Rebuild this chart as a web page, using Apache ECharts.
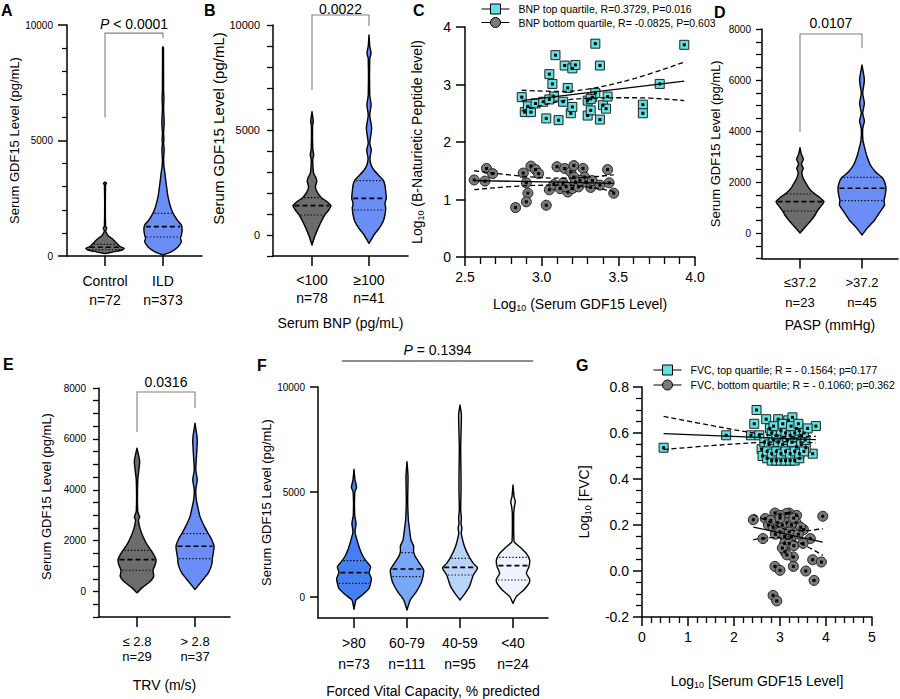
<!DOCTYPE html>
<html><head><meta charset="utf-8">
<script src="https://cdn.jsdelivr.net/npm/echarts@6/dist/echarts.min.js"></script>
<style>html,body{margin:0;padding:0;background:#fff}#chart{width:900px;height:699px}</style>
</head><body><div id="chart"></div>
<script>
// ---------------- DATA ----------------
// Panel A
const aCategories = ['Control', 'ILD'];
const aCounts = [72, 373];
const aControlViolin = [[100,0],[180,0.45],[260,0.9],[330,1.0],[400,0.82],[476,0.7],[620,0.53],[765,0.35],[866,0.18],[1000,0.07],[1100,0.04],[1200,0.09],[1300,0.03],[3080,0.03],[3146,0.08],[3200,0]];
const aILDViolin = [[43,0],[188,0.44],[404,0.79],[620,0.96],[765,0.91],[909,0.96],[1126,1.0],[1342,0.96],[1558,0.74],[1847,0.53],[2135,0.39],[2568,0.26],[2857,0.21],[3290,0.14],[3579,0.1],[3867,0.05],[4200,0.03],[4589,0.06],[4900,0.03],[5022,0.05],[5300,0.03],[5743,0.06],[6031,0.05],[6400,0.03],[6825,0.05],[7200,0.03],[9000,0.025],[9062,0]];
const aQuartiles = [[280,380,500],[823,1270,1847]];
// Panel B
const bCategories = ['<100', '\u2265100'];
const bCounts = [78, 41];
const bLowViolin = [[-476,0],[-79,0.14],[317,0.32],[714,0.53],[952,0.67],[1190,0.88],[1397,1.0],[1587,0.79],[1778,0.49],[2063,0.26],[2302,0.18],[2540,0.25],[2730,0.21],[2937,0.09],[3254,0.05],[3600,0.04],[3810,0.09],[4127,0.04],[5200,0.03],[5397,0.07],[5873,0]];
const bHighViolin = [[-397,0],[0,0.26],[317,0.53],[635,0.74],[952,0.84],[1270,0.88],[1508,0.84],[1746,0.91],[2063,0.88],[2381,0.84],[2619,0.74],[2857,0.49],[3095,0.26],[3333,0.11],[3651,0.05],[4048,0.12],[4365,0.04],[5079,0.14],[5714,0.04],[6190,0.11],[6667,0.04],[8400,0.04],[8651,0.11],[9000,0.04],[9524,0]];
const bQuartiles = [[952,1397,1778],[1190,1746,2587]];
// Panel C
const cTopName = 'BNP top quartile, R=0.3729, P=0.016';
const cBottomName = 'BNP bottom quartile, R= -0.0825, P=0.603';
const cTop = [[2.87,2.78],[2.89,2.52],[2.91,2.62],[2.93,2.52],[2.96,2.67],[3.01,2.70],[3.03,2.41],[3.05,3.18],[3.07,3.01],[3.08,2.79],[3.09,3.51],[3.05,2.74],[3.11,2.38],[3.14,2.70],[3.15,3.33],[3.17,2.94],[3.19,2.50],[3.20,3.28],[3.20,2.61],[3.22,3.34],[3.30,2.72],[3.30,2.46],[3.32,2.55],[3.33,2.78],[3.35,3.71],[3.35,2.85],[3.38,3.33],[3.38,2.39],[3.40,2.64],[3.42,2.58],[3.43,2.79],[3.32,2.75],[3.66,2.65],[3.66,2.50],[3.77,3.01],[3.93,3.69]];
const cBottom = [[2.56,1.34],[2.63,1.32],[2.64,1.54],[2.68,1.45],[2.83,0.86],[2.88,1.46],[2.90,1.29],[2.91,1.11],[2.90,0.96],[2.93,1.58],[2.96,1.52],[2.98,1.45],[3.03,0.90],[3.05,1.17],[3.08,1.26],[3.10,1.57],[3.12,1.19],[3.14,1.29],[3.15,1.54],[3.17,1.13],[3.19,1.48],[3.20,1.19],[3.21,1.59],[3.21,1.39],[3.22,1.30],[3.24,1.22],[3.27,1.54],[3.28,1.39],[3.29,1.30],[3.32,1.21],[3.33,1.33],[3.38,1.25],[3.43,1.52],[3.44,1.29],[3.47,1.11],[3.16,1.22],[3.25,1.33]];
const cTopFit = [[2.87,2.72],[3.93,3.06]];
const cTopUpper = [[2.87,2.90],[3.1,2.88],[3.3,2.92],[3.6,3.10],[3.93,3.39]];
const cTopLower = [[2.87,2.54],[3.1,2.70],[3.3,2.76],[3.6,2.77],[3.93,2.72]];
const cBottomFit = [[2.56,1.33],[3.47,1.28]];
const cBottomUpper = [[2.56,1.50],[2.9,1.40],[3.15,1.37],[3.47,1.43]];
const cBottomLower = [[2.56,1.17],[2.9,1.24],[3.15,1.25],[3.47,1.14]];
// Panel D
const dCategories = ['\u226437.2', '>37.2'];
const dCounts = [23, 45];
const dLowViolin = [[0,0],[183,0.17],[444,0.42],[706,0.63],[863,0.72],[1033,0.86],[1229,1.0],[1386,0.83],[1556,0.58],[1752,0.38],[2013,0.21],[2209,0.11],[2405,0.08],[2536,0.14],[2693,0.06],[2902,0.14],[3085,0.06],[3346,0]];
const dHighViolin = [[-78,0],[183,0.21],[510,0.53],[837,0.76],[1098,0.94],[1268,0.92],[1490,0.97],[1752,1.0],[2013,0.94],[2183,0.83],[2405,0.56],[2667,0.35],[3059,0.19],[3386,0.1],[3647,0.04],[4105,0.03],[4392,0.1],[4693,0.03],[5085,0.1],[5477,0.03],[6000,0.1],[6588,0]];
const dQuartiles = [[863,1229,1529],[1268,1752,2183]];
// Panel E
const eCategories = ['\u2264 2.8', '> 2.8'];
const eCounts = [29, 37];
const eLowViolin = [[-52,0],[144,0.26],[405,0.7],[601,0.88],[837,0.84],[1059,0.96],[1255,1.0],[1451,0.88],[1621,0.74],[1843,0.53],[2105,0.35],[2366,0.21],[2627,0.11],[2824,0.08],[2928,0.14],[3150,0.04],[4392,0.04],[5111,0.14],[5636,0]];
const eHighViolin = [[78,0],[405,0.35],[732,0.7],[1059,0.88],[1294,0.91],[1516,0.96],[1778,1.0],[2039,0.88],[2275,0.7],[2562,0.49],[2954,0.26],[3346,0.14],[3608,0.07],[4000,0.04],[4392,0.12],[4784,0.04],[5961,0.12],[6616,0]];
const eQuartiles = [[837,1255,1621],[1294,1778,2275]];
// Panel F
const fCategories = ['>80', '60-79', '40-59', '<40'];
const fCounts = [73, 111, 95, 24];
const fViolin80 = [[-587,0],[-143,0.12],[95,0.48],[413,0.87],[651,0.96],[889,1.0],[1159,0.87],[1444,0.96],[1683,0.73],[2000,0.48],[2397,0.29],[2873,0.12],[3111,0.06],[3508,0.12],[3905,0.04],[5000,0.05],[5222,0.15],[5571,0.06],[6079,0]];
const fViolin60 = [[-619,0],[-143,0.19],[254,0.54],[651,0.81],[968,0.92],[1286,0.96],[1603,0.73],[1921,0.48],[2159,0.38],[2429,0.38],[2714,0.23],[3190,0.15],[3667,0.08],[4619,0.04],[5730,0.06],[6444,0]];
const fViolin40 = [[-143,0],[175,0.29],[492,0.54],[810,0.67],[1048,0.77],[1286,0.96],[1413,1.0],[1603,0.77],[1841,0.58],[2159,0.38],[2476,0.23],[2794,0.13],[3032,0.07],[3270,0.11],[3508,0.06],[3746,0.08],[4143,0.04],[5095,0.06],[5651,0.06],[7157,0.04],[8667,0.08],[9143,0]];
const fViolinLow = [[-302,0],[16,0.19],[333,0.62],[651,0.92],[841,0.96],[1127,0.77],[1444,0.92],[1762,0.96],[2079,0.77],[2317,0.48],[2524,0.19],[2635,0.06],[3984,0.04],[4302,0.08],[4540,0.13],[4778,0.06],[5333,0]];
const fQuartiles = [[651,1159,1730],[968,1333,2111],[1048,1413,1841],[810,1492,1889]];
// Panel G
const gTopName = 'FVC, top quartile; R = - 0.1564; p=0.177';
const gBottomName = 'FVC, bottom quartile; R = - 0.1060; p=0.362';
const gTop = [[0.47,0.536],[1.83,0.59],[2.49,0.70],[2.44,0.64],[2.37,0.59],[2.55,0.59],[2.60,0.53],[2.70,0.66],[2.78,0.62],[2.96,0.66],[3.18,0.655],[3.27,0.668],[3.36,0.62],[3.47,0.59],[3.78,0.63],[3.71,0.51],[3.56,0.536],[3.36,0.54],
 [2.62,0.50],[2.72,0.49],[2.82,0.48],[2.92,0.48],[3.02,0.48],[3.12,0.48],[3.22,0.48],[3.32,0.48],[3.42,0.49],
 [2.66,0.56],[2.76,0.55],[2.86,0.57],[2.96,0.56],[3.06,0.55],[3.16,0.57],[3.26,0.56],[3.46,0.55],[3.55,0.57],
 [2.72,0.52],[2.82,0.51],[2.92,0.52],[3.02,0.51],[3.12,0.52],[3.22,0.51],[3.32,0.52],[3.42,0.51],[3.52,0.52],
 [2.82,0.60],[2.92,0.59],[3.02,0.61],[3.12,0.60],[3.22,0.59],[3.32,0.60],[3.42,0.61],[3.52,0.60],
 [2.86,0.63],[3.06,0.64],[3.24,0.63],[3.40,0.64],[3.60,0.62]];
const gBottom = [[2.42,0.223],[2.68,0.228],[2.89,0.252],[3.20,0.252],[3.36,0.242],[3.14,0.25],[3.0,0.242],[3.93,0.238],[2.63,0.141],[3.51,0.18],[3.66,0.141],[3.25,0.148],[3.11,0.083],[3.29,0.061],[2.89,0.02],[3.0,0.003],[3.29,0.02],[3.71,0.049],[3.90,0.039],[3.56,0.0],[3.74,-0.041],[2.85,-0.106],[2.93,-0.13],
 [2.75,0.20],[2.85,0.19],[2.95,0.21],[3.05,0.20],[3.15,0.21],[3.25,0.20],[3.35,0.21],[3.45,0.19],[2.9,0.16],[3.0,0.17],[3.1,0.15],[3.2,0.17],[3.4,0.16],[3.1,0.12],[3.2,0.12],[3.3,0.11],[3.05,0.10],[3.15,0.07],[3.5,0.12],[2.8,0.22],[3.0,0.23],[3.3,0.23]];
const gTopFit = [[0.47,0.597],[3.78,0.571]];
const gTopUpper = [[0.47,0.672],[1.5,0.633],[2.5,0.598],[3.2,0.585],[3.78,0.585]];
const gTopLower = [[0.47,0.528],[1.5,0.545],[2.5,0.558],[3.2,0.562],[3.78,0.557]];
const gBottomFit = [[2.42,0.191],[3.93,0.126]];
const gBottomUpper = [[2.42,0.246],[2.8,0.21],[3.15,0.18],[3.5,0.175],[3.93,0.184]];
const gBottomLower = [[2.42,0.136],[2.8,0.145],[3.15,0.14],[3.5,0.115],[3.93,0.068]];

// ---------------- STYLE / HELPERS ----------------
const FONT = '"Liberation Sans", Arial, Helvetica, sans-serif';
const GRAY = '#6c6c6c', BLUE = '#6b8ef6';
const CYAN = '#60e2e2', CIRC = '#7a7a7a';
const SUB = {s: {fontSize: 9, fontFamily: FONT, color: '#000', verticalAlign: 'bottom', padding: [8, 0, 0, 0]}};

function interp(prof, v) {
  for (let i = 1; i < prof.length; i++) {
    if (v <= prof[i][0]) {
      const [v0, d0] = prof[i - 1], [v1, d1] = prof[i];
      return d0 + (d1 - d0) * (v - v0) / (v1 - v0);
    }
  }
  return 0;
}

// category positions on a value x axis that starts at 0 at the grid's left edge
function catXAxis(gi, lead, trail, cats, counts, fs, lh, margin, name, nameGap) {
  const pos = cats.map((c, i) => lead + i);
  return {
    type: 'value', gridIndex: gi, min: 0, max: lead + cats.length - 1 + trail, position: 'bottom',
    axisLine: {show: true, onZero: false, lineStyle: {color: '#000', width: 1.5}},
    axisTick: {show: true, customValues: pos, length: 10, lineStyle: {color: '#000', width: 1.5}},
    axisLabel: {show: true, customValues: pos, fontSize: fs, lineHeight: lh, margin: margin, color: '#000', fontFamily: FONT,
      formatter: v => { const i = Math.round(v - lead); return cats[i] + '\nn=' + counts[i]; }},
    splitLine: {show: false},
    name: name, nameLocation: 'middle', nameGap: nameGap,
    nameTextStyle: {fontSize: 14, color: '#000', fontFamily: FONT}
  };
}
// y axis: ticks every `interval` from min, labels only at labelVals
function valYAxis(gi, min, max, interval, labelVals, fs, tickLen, margin, name, nameGap, nameFs, namePad) {
  return {
    type: 'value', gridIndex: gi, min: min, max: max, interval: interval, position: 'left',
    axisLine: {show: true, onZero: false, lineStyle: {color: '#000', width: 1.5}},
    axisTick: {show: true, length: tickLen, lineStyle: {color: '#000', width: 1.3}},
    axisLabel: {show: true, fontSize: fs, margin: margin, color: '#000', fontFamily: FONT,
      formatter: v => (labelVals.indexOf(v) >= 0 ? String(v) : '')},
    splitLine: {show: false},
    name: name, nameLocation: 'middle', nameGap: nameGap,
    nameTextStyle: {fontSize: nameFs, color: '#000', fontFamily: FONT, padding: [0, 0, 0, namePad || 0]}
  };
}

// each violin item carries [x position, median] so the y axis gets real data
function violinSeries(gi, lead, profiles, quarts, colors, widthFrac) {
  return {
    type: 'custom', xAxisIndex: gi, yAxisIndex: gi, clip: false, silent: true, z: 3,
    encode: {x: 0, y: 1},
    data: profiles.map((p, i) => [lead + i, quarts[i][1]]),
    renderItem: function (params, api) {
      const idx = params.dataIndex;
      const xv = api.value(0);
      const prof = profiles[idx];
      const unit = api.size([1, 0])[0];
      const hw = unit * widthFrac;
      const cx = api.coord([xv, 0])[0];
      const L = [], R = [];
      prof.forEach(([v, d]) => {
        const y = api.coord([xv, v])[1];
        L.push([cx - hw * d, y]); R.push([cx + hw * d, y]);
      });
      const pts = L.concat(R.reverse());
      const children = [{
        type: 'polygon', shape: {points: pts, smooth: 0.2},
        style: {fill: colors[idx], stroke: '#000', lineWidth: 1.4, lineJoin: 'round'}
      }];
      quarts[idx].forEach((val, k) => {
        const d = interp(prof, val);
        const y = api.coord([xv, val])[1];
        children.push({
          type: 'line', shape: {x1: cx - hw * d + 1.5, y1: y, x2: cx + hw * d - 1.5, y2: y},
          style: {stroke: '#000', lineWidth: k === 1 ? 1.6 : 1.2, lineDash: k === 1 ? [5, 3] : [1.3, 2]}
        });
      });
      return {type: 'group', children: children};
    }
  };
}

function bracketSeries(gi, x1, x2, yL, yR, yTop, text, textGap, color) {
  return {
    type: 'custom', xAxisIndex: gi, yAxisIndex: gi, clip: false, silent: true, z: 2,
    encode: {x: 0, y: 1},
    data: [[x1, yL]],
    renderItem: function (params, api) {
      const a = api.coord([x1, yL]), b = api.coord([x1, yTop]), c = api.coord([x2, yTop]), d = api.coord([x2, yR]);
      const t = api.coord([(x1 + x2) / 2, yTop]);
      return {type: 'group', children: [
        {type: 'polyline', shape: {points: [a, b, c, d]}, style: {stroke: color || '#808080', lineWidth: 1.1, fill: null}},
        {type: 'text', x: t[0], y: t[1] - textGap, style: {
          text: text, fontSize: 14, fontFamily: FONT, fill: '#000', align: 'center', verticalAlign: 'middle',
          rich: {i: {fontStyle: 'italic', fontSize: 14, fontFamily: FONT, fill: '#000'}}
        }}
      ]};
    }
  };
}

function lineSeries(gi, data, dashed) {
  return {
    type: 'line', xAxisIndex: gi, yAxisIndex: gi, data: data, showSymbol: false, symbol: 'none',
    smooth: dashed ? 0.4 : false, silent: true, z: 5,
    lineStyle: {color: '#000', width: 1.3, type: dashed ? [5, 3] : 'solid'}
  };
}
function pointSeries(gi, name, data, symbol, size, color) {
  return [{
    type: 'scatter', name: name, xAxisIndex: gi, yAxisIndex: gi, data: data, symbol: symbol, symbolSize: size,
    itemStyle: {color: color, borderColor: '#222', borderWidth: 1, opacity: 1}, z: 3, silent: true
  }, {
    type: 'scatter', xAxisIndex: gi, yAxisIndex: gi, data: data, symbol: 'rect', symbolSize: 3,
    itemStyle: {color: '#000', opacity: 1}, z: 4, silent: true
  }];
}

const SQ_ICON = 'path://M0,5.5H9M9,0.5H19V10.5H9ZM19,5.5H28';
const CI_ICON = 'path://M0,5.5H9M9,5.5A5,5 0 1,1 19,5.5A5,5 0 1,1 9,5.5ZM19,5.5H28';

function letter(t, left, top) {
  return {text: t, left: left, top: top, padding: 0, textStyle: {fontSize: 16, fontWeight: 'bold', fontFamily: FONT, color: '#000'}};
}

// ---------------- OPTION ----------------
const LEAD = {A: 0.655, B: 0.684, D: 0.613, E: 0.655, F: 0.679};

const grids = [
  {left: 67, top: 25, width: 135, height: 231},
  {left: 273, top: 25, width: 135, height: 231},
  {left: 465, top: 27, width: 230, height: 230},
  {left: 762, top: 29, width: 136, height: 229.5},
  {left: 99, top: 388, width: 131, height: 229},
  {left: 318, top: 387, width: 230, height: 231},
  {left: 642, top: 387, width: 230, height: 230}
];

const xAxes = [
  catXAxis(0, LEAD.A, 0.672, aCategories, aCounts, 14, 19, 15, '', 0),
  catXAxis(1, LEAD.B, 0.684, bCategories, bCounts, 14, 18, 15, 'Serum BNP (pg/mL)', 60),
  {
    type: 'value', gridIndex: 2, min: 2.5, max: 4.0, interval: 0.5, position: 'bottom',
    axisLine: {show: true, onZero: false, lineStyle: {color: '#000', width: 1.5}},
    axisTick: {show: true, length: 9, lineStyle: {color: '#000', width: 1.5}},
    minorTick: {show: true, splitNumber: 5, length: 7, lineStyle: {color: '#000', width: 1.3}},
    axisLabel: {fontSize: 14, margin: 13, color: '#000', fontFamily: FONT, formatter: v => v.toFixed(1)},
    splitLine: {show: false},
    name: 'Log{s|10} (Serum GDF15 Level)', nameLocation: 'middle', nameGap: 38,
    nameTextStyle: {fontSize: 14, color: '#000', fontFamily: FONT, rich: SUB}
  },
  catXAxis(3, LEAD.D, 0.581, dCategories, dCounts, 13, 20, 14, 'PASP (mmHg)', 59),
  catXAxis(4, LEAD.E, 0.603, eCategories, eCounts, 13, 15, 17, 'TRV (m/s)', 61),
  catXAxis(5, LEAD.F, 0.66, fCategories, fCounts, 14, 21, 14, 'Forced Vital Capacity, % predicted', 66),
  {
    type: 'value', gridIndex: 6, min: 0, max: 5, interval: 1, position: 'bottom',
    axisLine: {show: true, onZero: false, lineStyle: {color: '#000', width: 1.5}},
    axisTick: {show: true, length: 9, lineStyle: {color: '#000', width: 1.5}},
    minorTick: {show: true, splitNumber: 5, length: 6, lineStyle: {color: '#000', width: 1.3}},
    axisLabel: {fontSize: 14, margin: 13, color: '#000', fontFamily: FONT},
    splitLine: {show: false},
    name: 'Log{s|10} [Serum GDF15 Level]', nameLocation: 'middle', nameGap: 55,
    nameTextStyle: {fontSize: 14, color: '#000', fontFamily: FONT, rich: SUB}
  }
];

const yAxes = [
  // Panel A: major every 5000 with minor every 1000
  {
    type: 'value', gridIndex: 0, min: 0, max: 10000, interval: 5000, position: 'left',
    axisLine: {show: true, onZero: false, lineStyle: {color: '#000', width: 1.5}},
    axisTick: {show: true, length: 9, lineStyle: {color: '#000', width: 1.5}},
    minorTick: {show: true, splitNumber: 5, length: 5, lineStyle: {color: '#000', width: 1.2}},
    axisLabel: {fontSize: 10, margin: 14, color: '#000', fontFamily: FONT, formatter: v => String(v)},
    splitLine: {show: false},
    name: 'Serum GDF15 Level (pg/mL)', nameLocation: 'middle', nameGap: 45,
    nameTextStyle: {fontSize: 13, color: '#000', fontFamily: FONT}
  },
  valYAxis(1, -1000, 10000, 1000, [0, 5000, 10000], 11, 6, 13, 'Serum GDF15 Level (pg/mL)', 37, 15, 24),
  {
    type: 'value', gridIndex: 2, min: 0, max: 4, interval: 1, position: 'left',
    axisLine: {show: true, onZero: false, lineStyle: {color: '#000', width: 1.5}},
    axisTick: {show: true, length: 9, lineStyle: {color: '#000', width: 1.5}},
    axisLabel: {fontSize: 14, margin: 14, color: '#000', fontFamily: FONT},
    splitLine: {show: false},
    name: 'Log{s|10} (B-Naturietic Peptide level)', nameLocation: 'middle', nameGap: 40,
    nameTextStyle: {fontSize: 14, color: '#000', fontFamily: FONT, rich: SUB}
  },
  valYAxis(3, -1000, 8000, 500, [0, 2000, 4000, 6000, 8000], 10, 6, 11, 'Serum GDF15 Level (pg/mL)', 40, 13, 0),
  valYAxis(4, -1000, 8000, 500, [0, 2000, 4000, 6000, 8000], 10, 6, 13, 'Serum GDF15 Level (pg/mL)', 46, 13, 12),
  {
    type: 'value', gridIndex: 5, min: -1000, max: 10000, position: 'left',
    axisLine: {show: true, onZero: false, lineStyle: {color: '#000', width: 1.5}},
    axisTick: {show: true, customValues: [0, 5000, 10000], length: 8, lineStyle: {color: '#000', width: 1.5}},
    axisLabel: {show: true, customValues: [0, 5000, 10000], fontSize: 10, margin: 13, color: '#000', fontFamily: FONT, formatter: v => String(v)},
    splitLine: {show: false},
    name: 'Serum GDF15 Level (pg/mL)', nameLocation: 'middle', nameGap: 43,
    nameTextStyle: {fontSize: 13, color: '#000', fontFamily: FONT}
  },
  {
    type: 'value', gridIndex: 6, min: -0.2, max: 0.8, interval: 0.2, position: 'left',
    axisLine: {show: true, onZero: false, lineStyle: {color: '#000', width: 1.5}},
    axisTick: {show: true, length: 9, lineStyle: {color: '#000', width: 1.5}},
    minorTick: {show: true, splitNumber: 4, length: 6, lineStyle: {color: '#000', width: 1.3}},
    axisLabel: {fontSize: 14, margin: 13, color: '#000', fontFamily: FONT, formatter: v => v.toFixed(1)},
    splitLine: {show: false},
    name: 'Log{s|10} [FVC]', nameLocation: 'middle', nameGap: 50,
    nameTextStyle: {fontSize: 14, color: '#000', fontFamily: FONT, rich: SUB}
  }
];

const series = [
  violinSeries(0, LEAD.A, [aControlViolin, aILDViolin], aQuartiles, [GRAY, BLUE], 0.33),
  bracketSeries(0, LEAD.A, LEAD.A + 1, 6000, 9430, 9650, '{i|P} < 0.0001', 9),
  violinSeries(1, LEAD.B, [bLowViolin, bHighViolin], bQuartiles, [GRAY, BLUE], 0.333),
  bracketSeries(1, LEAD.B, LEAD.B + 1, 6905, 9952, 10476, '0.0022', 6),
  ...pointSeries(2, cBottomName, cBottom, 'circle', 10, CIRC),
  ...pointSeries(2, cTopName, cTop, 'rect', 9, CYAN),
  lineSeries(2, cTopFit, false), lineSeries(2, cTopUpper, true), lineSeries(2, cTopLower, true),
  lineSeries(2, cBottomFit, false), lineSeries(2, cBottomUpper, true), lineSeries(2, cBottomLower, true),
  violinSeries(3, LEAD.D, [dLowViolin, dHighViolin], dQuartiles, [GRAY, BLUE], 0.387),
  bracketSeries(3, LEAD.D, LEAD.D + 1, 3960, 7243, 7804, '0.0107', 10.5),
  violinSeries(4, LEAD.E, [eLowViolin, eHighViolin], eQuartiles, [GRAY, BLUE], 0.328),
  bracketSeries(4, LEAD.E, LEAD.E + 1, 6275, 7216, 7843, '0.0316', 10),
  violinSeries(5, LEAD.F, [fViolin80, fViolin60, fViolin40, fViolinLow], fQuartiles, ['#4480f1', '#78a7f7', '#bad3fa', '#eef4fe'], 0.327),
  bracketSeries(5, LEAD.F - 0.23, LEAD.F + 3.38, 11238, 11238, 11238, '{i|P} = 0.1394', 11, '#222'),
  ...pointSeries(6, gBottomName, gBottom, 'circle', 10, CIRC),
  ...pointSeries(6, gTopName, gTop, 'rect', 9, CYAN),
  lineSeries(6, gTopFit, false), lineSeries(6, gTopUpper, true), lineSeries(6, gTopLower, true),
  lineSeries(6, gBottomFit, false), lineSeries(6, gBottomUpper, true), lineSeries(6, gBottomLower, true)
];

const legendCommon = {
  orient: 'vertical', itemWidth: 28, itemHeight: 11, selectedMode: false,
  itemStyle: {borderColor: '#000', borderWidth: 1},
  textStyle: {fontSize: 10.5, fontFamily: FONT, color: '#000', padding: [0, 0, 0, 4], lineHeight: 12}
};

const option = {
  animation: false,
  backgroundColor: '#fff',
  title: [letter('A', 1, 2), letter('B', 204, 2), letter('C', 413, 2), letter('D', 714, 4),
          letter('E', 3, 356), letter('F', 257, 357), letter('G', 576, 357)],
  legend: [
    Object.assign({}, legendCommon, {left: 476, top: -2, itemGap: 1.5,
      data: [{name: cTopName, icon: SQ_ICON}, {name: cBottomName, icon: CI_ICON}]}),
    Object.assign({}, legendCommon, {left: 648, top: 359, itemGap: 3,
      data: [{name: gTopName, icon: SQ_ICON}, {name: gBottomName, icon: CI_ICON}]})
  ],
  grid: grids,
  xAxis: xAxes,
  yAxis: yAxes,
  series: series
};

const chart = echarts.init(document.getElementById('chart'), null, {renderer: 'svg'});
chart.setOption(option);
</script></body></html>
